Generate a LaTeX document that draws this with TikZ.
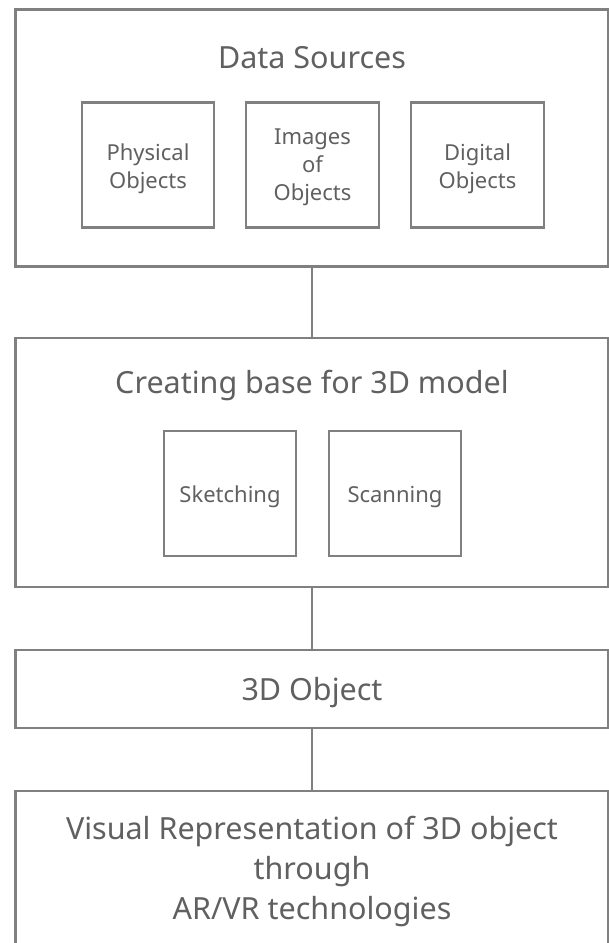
\documentclass[tikz,border=0pt]{standalone}
\usepackage{fontspec}
\setmainfont{Noto Sans}
\definecolor{linegray}{RGB}{128,128,128}
\definecolor{textgray}{RGB}{96,96,96}
\begin{document}
\begin{tikzpicture}[x=1pt,y=-1pt,
  box/.style={draw=linegray, line width=2.2pt, rectangle, inner sep=0pt},
  outerbox/.style={box, minimum width=593pt},
  innerbox/.style={box, minimum width=132.5pt, minimum height=125pt},
  smalltext/.style={text=textgray, inner sep=0pt, align=center, anchor=base,
     font=\fontsize{22}{28}\selectfont},
  bigtext/.style={text=textgray, inner sep=0pt, font=\fontsize{30.5}{40}\selectfont, align=center},
  link/.style={draw=linegray, line width=2.2pt}]
\useasboundingbox (0,0) rectangle (609,943);
\clip (0,0) rectangle (609,943);
% Data Sources
\node[outerbox, minimum height=257pt] (ds) at (312,138) {};
\node[bigtext, anchor=base] (dst) at (312,68.3) {Data Sources};
\node[innerbox] (phys) at (148,165) {};
\node[innerbox] (img) at (312.5,165) {};
\node[innerbox] (dig) at (477.5,165) {};
% (base anchor of a multi-line text = baseline of its last line)
\node[smalltext] (physt) at (phys.center |- 0,188.3) {Physical\\Objects};
\node[smalltext] (imgt) at (img.center |- 0,200.3) {Images\\of\\Objects};
\node[smalltext] (digt) at (dig.center |- 0,188.3) {Digital\\Objects};
% Creating base
\node[outerbox, minimum height=249.6pt] (cb) at (312,462.5) {};
\node[bigtext, anchor=base] (cbt) at (312,393.3) {Creating base for 3D model};
\node[innerbox] (sk) at (230,493.5) {};
\node[innerbox] (sc) at (395,493.5) {};
\node[smalltext] (skt) at (sk.center |- 0,502.7) {Sketching};
\node[smalltext] (sct) at (sc.center |- 0,502.7) {Scanning};
% 3D object
\node[outerbox, minimum height=78.3pt] (obj) at (312,689.2) {};
\node[bigtext, anchor=base] (objt) at (312,700) {3D Object};
% Visual representation
\node[outerbox, minimum height=160pt] (vis) at (312,870.7) {};
\node[bigtext, anchor=base] (vist) at (312,919.3) {Visual Representation of 3D object\\through\\AR/VR technologies};
% connectors
\draw[link] (ds.south) -- (cb.north);
\draw[link] (cb.south) -- (obj.north);
\draw[link] (obj.south) -- (vis.north);
\end{tikzpicture}
\end{document}
